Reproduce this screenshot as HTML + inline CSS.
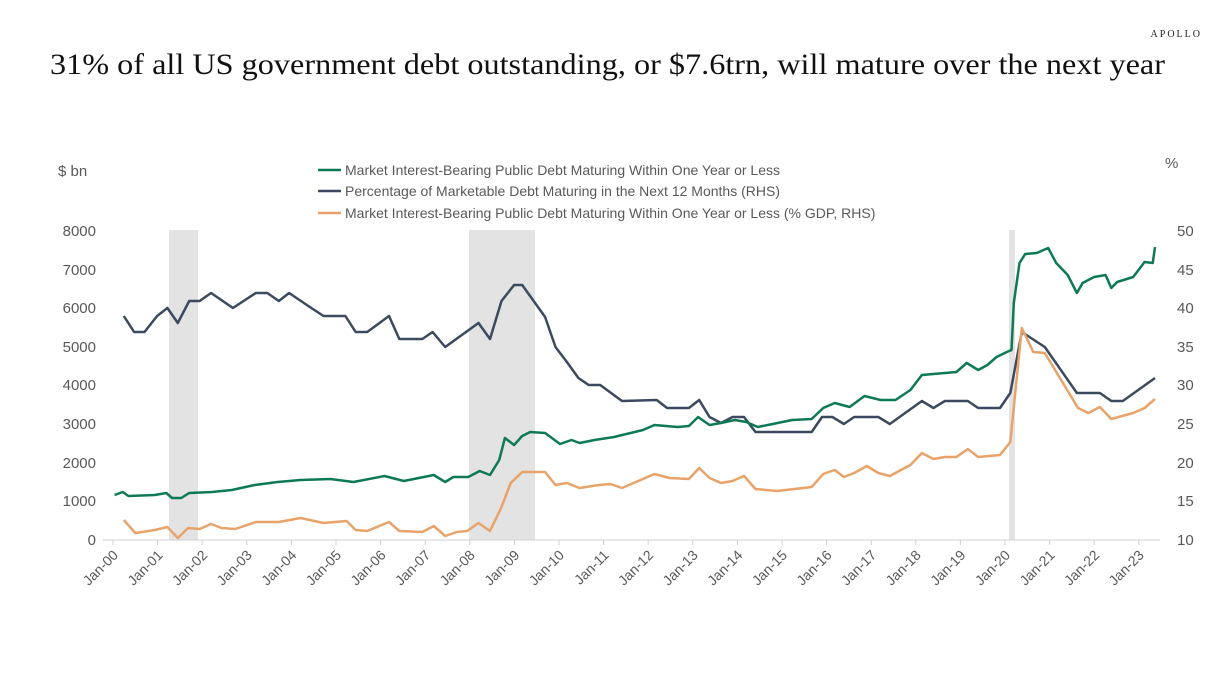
<!DOCTYPE html>
<html><head><meta charset="utf-8"><style>
body{margin:0;width:1229px;height:691px;background:#fff;overflow:hidden}
svg text{font-family:"Liberation Sans",sans-serif}
</style></head><body>
<svg width="1229" height="691" viewBox="0 0 1229 691">
<text x="1202" y="37" text-anchor="end" style="font-family:'Liberation Serif',serif;font-size:10px;letter-spacing:2px" fill="#222">APOLLO</text>
<text x="50" y="74" textLength="1115" lengthAdjust="spacingAndGlyphs" style="font-family:'Liberation Serif',serif;font-size:30px" fill="#111">31% of all US government debt outstanding, or $7.6trn, will mature over the next year</text>
<g fill="#e3e3e3"><rect x="169" y="230" width="29" height="310"/><rect x="469" y="230" width="66" height="310"/><rect x="1009" y="230" width="6" height="310"/></g>
<g font-size="15" fill="#595959">
<text x="58" y="176">$ bn</text><text x="1165" y="168">%</text>
<g text-anchor="end"><text x="96" y="236">8000</text><text x="96" y="275">7000</text><text x="96" y="313">6000</text><text x="96" y="352">5000</text><text x="96" y="390">4000</text><text x="96" y="429">3000</text><text x="96" y="468">2000</text><text x="96" y="506">1000</text><text x="96" y="545">0</text></g>
<g><text x="1177" y="236">50</text><text x="1177" y="275">45</text><text x="1177" y="313">40</text><text x="1177" y="352">35</text><text x="1177" y="390">30</text><text x="1177" y="429">25</text><text x="1177" y="468">20</text><text x="1177" y="506">15</text><text x="1177" y="545">10</text></g>
</g>
<g font-size="14" fill="#595959"><text x="345" y="175">Market Interest-Bearing Public Debt Maturing Within One Year or Less</text><text x="345" y="196">Percentage of Marketable Debt Maturing in the Next 12 Months (RHS)</text><text x="345" y="218">Market Interest-Bearing Public Debt Maturing Within One Year or Less (% GDP, RHS)</text></g>
<g stroke-width="2.5"><line x1="318" y1="170" x2="341" y2="170" stroke="#0e7a55"/><line x1="318" y1="191" x2="341" y2="191" stroke="#3b4a5e"/><line x1="318" y1="213" x2="341" y2="213" stroke="#e8a36a"/></g>
<line x1="103" y1="540" x2="1160" y2="540" stroke="#d0d0d0"/>
<g stroke="#d0d0d0" id="tk"></g>
<g fill="none" stroke-width="2.5" stroke-linejoin="round">
<polyline id="nv" stroke="#3b4a5e"/>
<polyline id="or" stroke="#e8a36a"/>
<polyline id="gr" stroke="#0e7a55"/>
</g>
<g id="lb" font-size="14" fill="#595959"></g>
</svg>
<script>
function P(s){return s.trim().split(/\s+/).map(function(p){return p.split(',').map(Number);});}
function build(a,c){
 var out=[];
 P(a).forEach(function(p){var x=40+(p[0]-40)*1.148;if(x<=636)out.push([x,p[1]]);});
 P(c).forEach(function(p){var x=620+(p[0]-620)*1.148;if(x>636)out.push([x,p[1]]);});
 return out.map(function(p){return p[0].toFixed(1)+','+p[1];}).join(' ');
}
document.getElementById('nv').setAttribute('points',build(
"113,316 122,332 131,332 142,316 151,308 160,323 170,301 179,301 189,293 208,308 228,293 238,293 248,301 257,293 275,307 287,316 306,316 315,332 325,332 344,316 353,339 373,339 382,332 393,347 422,323 432,339 442,301 453,285 460,285 480,317 489,347 499,362 509,378 518,385 528,385 547,401 563,401",
"620,400 652,400 661,408 680,408 689,400 698,417 708,423 718,417 728,417 738,432 787,432 796,417 805,417 815,424 824,417 845,417 855,424 883,401 893,408 903,401 923,401 932,408 951,408 960,393 970,332 990,347 1018,393 1038,393 1048,401 1058,401 1086,378"));
document.getElementById('or').setAttribute('points',build(
"113,520 123,533 140,530 151,527 160,538 169,528 179,529 189,524 198,528 210,529 228,522 248,522 267,518 287,523 307,521 315,530 325,531 344,522 353,531 373,532 383,526 393,536 403,532 412,531 422,523 432,531 442,507 450,483 460,472 480,472 489,485 499,483 510,488 527,485 537,484 547,488 563,481",
"620,487 633,485 650,474 663,478 680,479 689,468 698,478 708,483 718,481 728,476 738,489 757,491 787,487 797,474 807,470 815,477 824,473 835,466 845,473 855,476 873,465 883,453 893,459 903,457 913,457 923,449 932,457 951,455 960,442 970,328 980,352 990,353 1019,408 1028,413 1038,407 1048,419 1067,413 1077,408 1086,399"));
document.getElementById('gr').setAttribute('points',build(
"105,495 112,492 117,496 140,495 150,493 155,498 163,498 170,493 190,492 207,490 227,485 247,482 267,480 293,479 313,482 340,476 357,481 383,475 393,482 400,477 413,477 423,471 432,475 440,460 445,438 453,445 460,436 467,432 480,433 493,444 503,440 510,443 523,440 540,437 563,433",
"620,440 640,430 650,425 670,427 680,426 688,417 698,425 708,423 720,420 730,422 740,427 753,424 770,420 787,419 797,408 807,403 820,407 833,396 847,400 860,400 873,390 883,375 903,373 913,372 922,363 932,370 940,365 948,357 957,352 961,350 963,303 968,263 973,254 983,253 993,248 1000,263 1010,275 1018,293 1023,283 1033,277 1043,275 1048,288 1053,282 1067,277 1077,262 1084,263 1086,247"));
var tk=document.getElementById('tk'),s='';
for(var i=0;i<24;i++){var x=113+i*44.6;s+='<line x1="'+x+'" y1="540" x2="'+x+'" y2="545"/>';}
tk.innerHTML=s;
var lb=document.getElementById('lb'),t='';
for(var i=0;i<24;i++){var x=119+i*44.6,y=556;var yy=(i<10?'0':'')+i;t+='<text text-anchor="end" transform="translate('+x+','+y+') rotate(-45)">Jan-'+yy+'</text>';}
lb.innerHTML=t;
</script>
</body></html>
